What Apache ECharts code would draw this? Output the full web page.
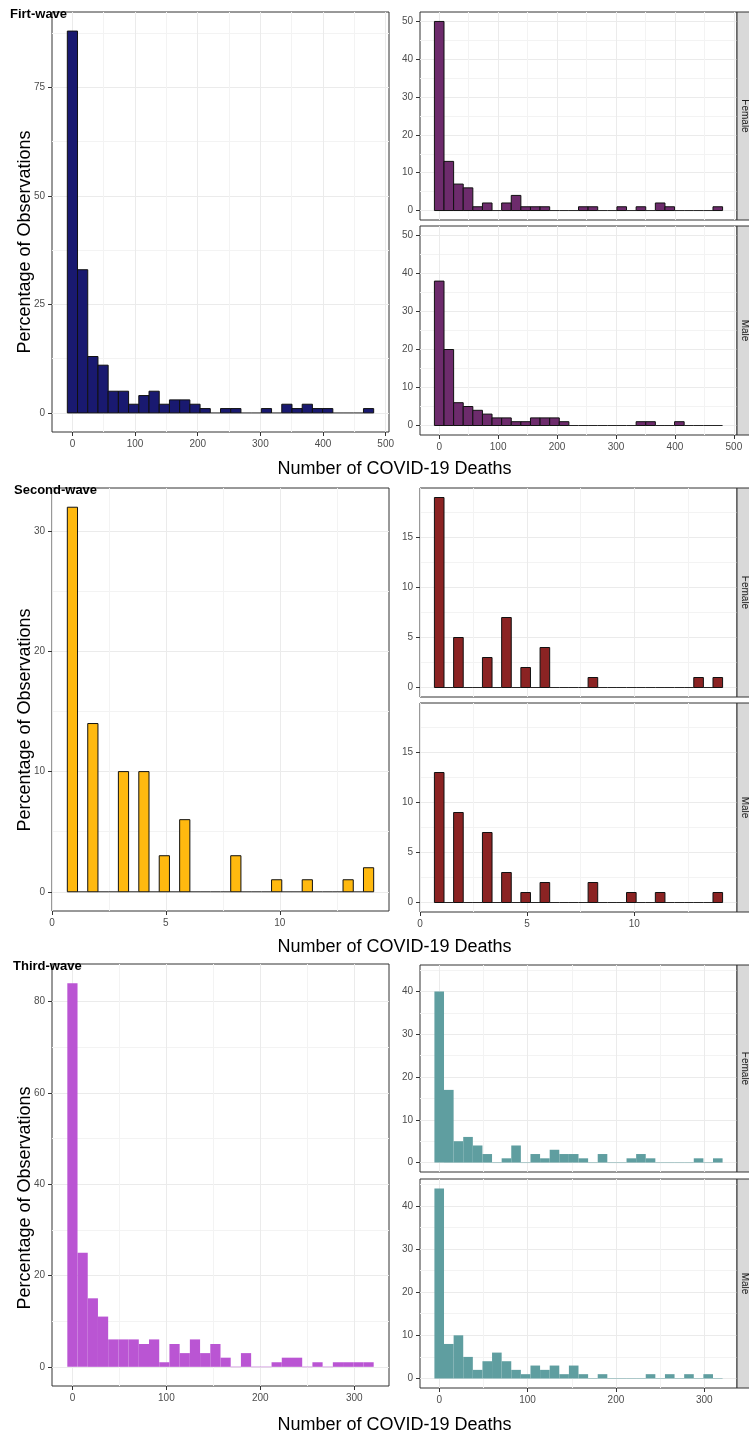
<!DOCTYPE html>
<html><head><meta charset="utf-8">
<script src="https://cdn.jsdelivr.net/npm/echarts@6/dist/echarts.min.js"></script>
<style>html,body{margin:0;padding:0;background:#fff}#c{width:749px;height:1435px}</style>
</head><body><div id="c"></div>
<script>
const FONT = '"Liberation Sans", Arial, Helvetica, sans-serif';

// ---------- First wave ----------
const wave1BinStart = -8.15;
const wave1BinWidth = 16.3;
const wave1All    = [88,33,13,11,5,5,2,4,5,2, 3,3,2,1,0,1,1,0,0,1, 0,2,1,2,1,1,0,0,0,1];
const wave1Female = [50,13,7,6,1,2,0,2,4,1, 1,1,0,0,0,1,1,0,0,1, 0,1,0,2,1,0,0,0,0,1];
const wave1Male   = [38,20,6,5,4,3,2,2,1,1, 2,2,2,1,0,0,0,0,0,0, 0,1,1,0,0,1,0,0,0,0];
const wave1XTicks = [0,100,200,300,400,500];
const wave1LeftYTicks = [0,25,50,75];
const wave1RightYTicks = [0,10,20,30,40,50];

// ---------- Second wave ----------
const wave2BinWidth = 13/29;
const wave2BinStart = 1.5*13/29;
const wave2All    = [32,0,14,0,0,10,0,10,0,3, 0,6,0,0,0,0,3,0,0,0, 1,0,0,1,0,0,0,1,0,2];
const wave2Female = [19,0,5,0,0,3,0,7,0,2, 0,4,0,0,0,0,1,0,0,0, 0,0,0,0,0,0,0,1,0,1];
const wave2Male   = [13,0,9,0,0,7,0,3,0,1, 0,2,0,0,0,0,2,0,0,0, 1,0,0,1,0,0,0,0,0,1];
const wave2XTicks = [0,5,10];
const wave2LeftYTicks = [0,10,20,30];
const wave2RightYTicks = [0,5,10,15];

// ---------- Third wave ----------
const wave3BinStart = -5.43;
const wave3BinWidth = 10.87;
const wave3All    = [84,25,15,11,6,6,6,5,6,1, 5,3,6,3,5,2,0,3,0,0, 1,2,2,0,1,0,1,1,1,1];
const wave3Female = [40,17,5,6,4,2,0,1,4,0, 2,1,3,2,2,1,0,2,0,0, 1,2,1,0,0,0,0,1,0,1];
const wave3Male   = [44,8,10,5,2,4,6,4,2,1, 3,2,3,1,3,1,0,1,0,0, 0,0,1,0,1,0,1,0,1,0];
const wave3XTicks = [0,100,200,300];
const wave3LeftYTicks = [0,20,40,60,80];
const wave3RightYTicks = [0,10,20,30,40];

const waveTitles = ['Firt-wave','Second-wave','Third-wave'];
const stripLabels = ['Female','Male'];
const xTitle = 'Number of COVID-19 Deaths';
const yTitle = 'Percentage of Observations';

const colors = {
  w1L:'#191970', w1R:'#6d2b6c',
  w2L:'#ffb90f', w2R:'#8b2323',
  w3L:'#ba55d3', w3R:'#5f9ea0'
};

function minorsOf(t){
  const s = t[1]-t[0], out=[t[0]-s/2];
  for (let i=0;i<t.length;i++) out.push(t[i]+s/2);
  return out;
}
function xRange(start,w,n){ const r=n*w, p=0.05*r; let a=start-p; if(Math.abs(a)<1e-9)a=0; return [a,start+r+p]; }
function yRange(max){ return [-0.05*max, 1.05*max]; }
function binsData(counts,start,w){ return counts.map((c,i)=>[start+i*w, start+(i+1)*w, c]); }

const R1 = Math.max(...wave1Female, ...wave1Male);
const R2 = Math.max(...wave2Female, ...wave2Male);
const R3 = Math.max(...wave3Female, ...wave3Male);

const panels = [
  {box:[52,12,337,420], counts:wave1All, start:wave1BinStart, w:wave1BinWidth, xt:wave1XTicks, yt:wave1LeftYTicks, yr:yRange(Math.max(...wave1All)), showX:true, fill:colors.w1L, stroke:'#111'},
  {box:[420,12,317,208], counts:wave1Female, start:wave1BinStart, w:wave1BinWidth, xt:wave1XTicks, yt:wave1RightYTicks, yr:yRange(R1), showX:false, fill:colors.w1R, stroke:'#111', strip:0},
  {box:[420,226,317,209], counts:wave1Male, start:wave1BinStart, w:wave1BinWidth, xt:wave1XTicks, yt:wave1RightYTicks, yr:yRange(R1), showX:true, fill:colors.w1R, stroke:'#111', strip:1},

  {box:[52,488,337,423], counts:wave2All, start:wave2BinStart, w:wave2BinWidth, xt:wave2XTicks, yt:wave2LeftYTicks, yr:yRange(Math.max(...wave2All)), showX:true, fill:colors.w2L, stroke:'#111'},
  {box:[420,488,317,209], counts:wave2Female, start:wave2BinStart, w:wave2BinWidth, xt:wave2XTicks, yt:wave2RightYTicks, yr:yRange(R2), showX:false, fill:colors.w2R, stroke:'#111', strip:0},
  {box:[420,703,317,209], counts:wave2Male, start:wave2BinStart, w:wave2BinWidth, xt:wave2XTicks, yt:wave2RightYTicks, yr:yRange(R2), showX:true, fill:colors.w2R, stroke:'#111', strip:1},

  {box:[52,964,337,422], counts:wave3All, start:wave3BinStart, w:wave3BinWidth, xt:wave3XTicks, yt:wave3LeftYTicks, yr:yRange(Math.max(...wave3All)), showX:true, fill:colors.w3L, stroke:null},
  {box:[420,965,317,207], counts:wave3Female, start:wave3BinStart, w:wave3BinWidth, xt:wave3XTicks, yt:wave3RightYTicks, yr:yRange(R3), showX:false, fill:colors.w3R, stroke:null, strip:0},
  {box:[420,1179,317,209], counts:wave3Male, start:wave3BinStart, w:wave3BinWidth, xt:wave3XTicks, yt:wave3RightYTicks, yr:yRange(R3), showX:true, fill:colors.w3R, stroke:null, strip:1}
];

function histRender(fill, stroke){
  return function(params, api){
    const x0=api.value(0), x1=api.value(1), v=api.value(2);
    const a=api.coord([x0,v]), b=api.coord([x1,0]);
    if (v===0){
      return {type:'line', shape:{x1:a[0], y1:b[1], x2:b[0], y2:b[1]},
        style:{stroke: stroke || fill, lineWidth:1, opacity: stroke?0.9:0.45}};
    }
    return {type:'rect', shape:{x:a[0], y:a[1], width:b[0]-a[0], height:b[1]-a[1]},
      style: stroke ? {fill:fill, stroke:stroke, lineWidth:1} : {fill:fill}};
  };
}

const grid=[], xAxis=[], yAxis=[], series=[], graphic=[];
const tickStyle = {color:'#333', width:1};
const labelStyle = {color:'#4d4d4d', fontSize:10, fontFamily:FONT};

panels.forEach((p,g)=>{
  grid.push({left:p.box[0], top:p.box[1], width:p.box[2], height:p.box[3],
    show:true, borderColor:'#333', borderWidth:1, backgroundColor:'#fff',
    containLabel:false, outerBoundsMode:'none'});
  const xr = xRange(p.start, p.w, p.counts.length);
  // minor grid axes
  xAxis.push({type:'value', gridIndex:g, min:xr[0], max:xr[1], position:'top',
    axisLine:{show:false, onZero:false}, axisTick:{show:false, customValues:minorsOf(p.xt)}, axisLabel:{show:false},
    splitLine:{show:true, lineStyle:{color:'#f3f3f3', width:1}}});
  yAxis.push({type:'value', gridIndex:g, min:p.yr[0], max:p.yr[1], position:'right',
    axisLine:{show:false, onZero:false}, axisTick:{show:false, customValues:minorsOf(p.yt)}, axisLabel:{show:false},
    splitLine:{show:true, lineStyle:{color:'#f3f3f3', width:1}}});
  // major axes
  xAxis.push({type:'value', gridIndex:g, min:xr[0], max:xr[1], position:'bottom',
    axisLine:{show:false, onZero:false},
    axisTick:{show:p.showX, length:4, lineStyle:tickStyle, customValues:p.xt},
    axisLabel:Object.assign({show:p.showX, margin:7, customValues:p.xt}, labelStyle),
    splitLine:{show:true, lineStyle:{color:'#ebebeb', width:1}}});
  yAxis.push({type:'value', gridIndex:g, min:p.yr[0], max:p.yr[1], position:'left',
    axisLine:{show:false, onZero:false},
    axisTick:{show:true, length:4, lineStyle:tickStyle, customValues:p.yt},
    axisLabel:Object.assign({show:true, margin:7, customValues:p.yt}, labelStyle),
    splitLine:{show:true, lineStyle:{color:'#ebebeb', width:1}}});
  series.push({type:'custom', xAxisIndex:2*g+1, yAxisIndex:2*g+1, silent:true,
    renderItem: histRender(p.fill, p.stroke),
    encode:{x:[0,1], y:2},
    data: binsData(p.counts, p.start, p.w), z:5});
  if (p.strip!==undefined){
    graphic.push({type:'rect', silent:true, z:10, shape:{x:737, y:p.box[1], width:22, height:p.box[3]},
      style:{fill:'#d9d9d9', stroke:'#333', lineWidth:1}});
    graphic.push({type:'text', silent:true, z:11, x:744.5, y:p.box[1]+p.box[3]/2, rotation:-Math.PI/2,
      style:{text:stripLabels[p.strip], font:'10px '+FONT, fill:'#1a1a1a', align:'center', verticalAlign:'middle'}});
  }
});

const rowOffsets = [0, 478, 956];
const titleY = [14, 490, 966];
const titleX = [10, 14, 13];
rowOffsets.forEach((o,i)=>{
  graphic.push({type:'text', silent:true, z:20, x:titleX[i], y:titleY[i],
    style:{text:waveTitles[i], font:'bold 13px '+FONT, fill:'#000', align:'left', verticalAlign:'middle'}});
  graphic.push({type:'text', silent:true, z:20, x:394.5, y:469.5+o,
    style:{text:xTitle, font:'18px '+FONT, fill:'#000', align:'center', verticalAlign:'middle'}});
  graphic.push({type:'text', silent:true, z:20, x:25, y:242+o, rotation:Math.PI/2,
    style:{text:yTitle, font:'18px '+FONT, fill:'#000', align:'center', verticalAlign:'middle'}});
});

const chart = echarts.init(document.getElementById('c'), null, {renderer:'canvas'});
chart.setOption({animation:false, backgroundColor:'#fff', grid, xAxis, yAxis, series, graphic});
</script></body></html>
